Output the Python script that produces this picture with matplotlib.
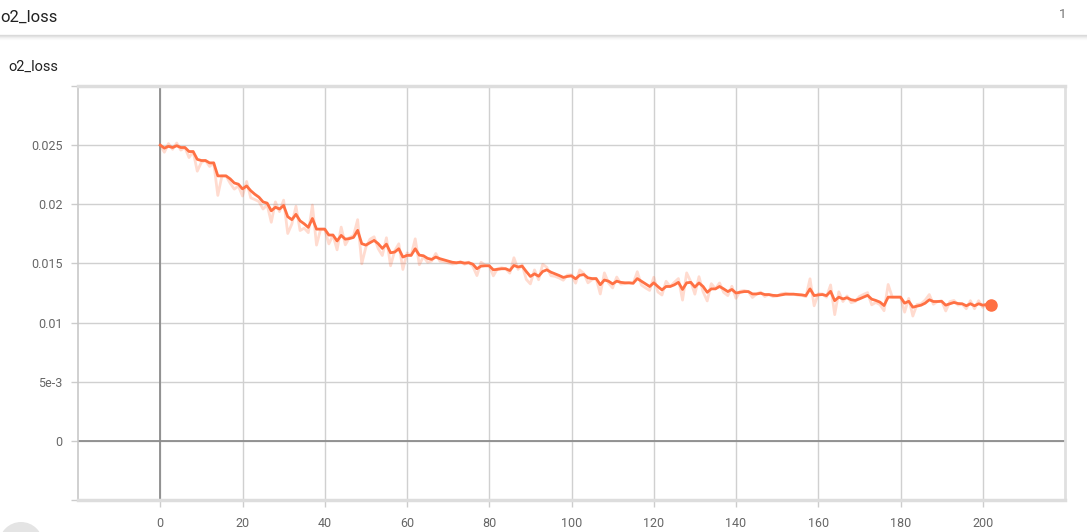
import matplotlib
matplotlib.use("Agg")
import matplotlib.pyplot as plt
from matplotlib.lines import Line2D
from matplotlib.patches import Ellipse

plt.rcParams['font.family'] = ['Roboto', 'DejaVu Sans']

title = "o2_loss"
run_count = "1"

steps = list(range(203))

smoothed = [
    0.02500, 0.02475, 0.02490, 0.02480, 0.02495, 0.02480, 0.02480, 0.02446, 0.02446, 0.02380,
    0.02370, 0.02370, 0.02350, 0.02350, 0.02240, 0.02240, 0.02240, 0.02215, 0.02180, 0.02170,
    0.02130, 0.02155, 0.02115, 0.02085, 0.02060, 0.02020, 0.02010, 0.01945, 0.01975, 0.01960,
    0.01990, 0.01895, 0.01870, 0.01915, 0.01860, 0.01835, 0.01805, 0.01880, 0.01790, 0.01790,
    0.01790, 0.01740, 0.01740, 0.01690, 0.01737, 0.01705, 0.01710, 0.01720, 0.01780, 0.01667,
    0.01655, 0.01675, 0.01695, 0.01667, 0.01627, 0.01663, 0.01590, 0.01596, 0.01624, 0.01554,
    0.01568, 0.01568, 0.01624, 0.01570, 0.01565, 0.01543, 0.01534, 0.01554, 0.01540, 0.01530,
    0.01520, 0.01510, 0.01506, 0.01510, 0.01503, 0.01506, 0.01494, 0.01455, 0.01477, 0.01480,
    0.01480, 0.01446, 0.01450, 0.01455, 0.01455, 0.01440, 0.01483, 0.01470, 0.01477, 0.01432,
    0.01390, 0.01412, 0.01392, 0.01432, 0.01446, 0.01426, 0.01412, 0.01398, 0.01382, 0.01390,
    0.01395, 0.01370, 0.01400, 0.01406, 0.01378, 0.01372, 0.01372, 0.01320, 0.01360, 0.01350,
    0.01327, 0.01350, 0.01340, 0.01336, 0.01336, 0.01333, 0.01372, 0.01350, 0.01327, 0.01305,
    0.01336, 0.01305, 0.01276, 0.01305, 0.01305, 0.01319, 0.01340, 0.01280, 0.01336, 0.01340,
    0.01300, 0.01335, 0.01305, 0.01256, 0.01285, 0.01285, 0.01305, 0.01285, 0.01262, 0.01280,
    0.01250, 0.01256, 0.01262, 0.01262, 0.01242, 0.01242, 0.01248, 0.01237, 0.01237, 0.01230,
    0.01228, 0.01234, 0.01240, 0.01240, 0.01240, 0.01237, 0.01234, 0.01228, 0.01285, 0.01228,
    0.01234, 0.01237, 0.01228, 0.01264, 0.01185, 0.01215, 0.01200, 0.01210, 0.01193, 0.01187,
    0.01200, 0.01215, 0.01230, 0.01198, 0.01187, 0.01173, 0.01144, 0.01215, 0.01215, 0.01215,
    0.01215, 0.01164, 0.01180, 0.01130, 0.01139, 0.01147, 0.01164, 0.01193, 0.01178, 0.01178,
    0.01180, 0.01147, 0.01159, 0.01170, 0.01161, 0.01159, 0.01142, 0.01159, 0.01142, 0.01159,
    0.01147, 0.01153, 0.01150,
]

raw = [
    0.02500, 0.02440, 0.02513, 0.02465, 0.02518, 0.02458, 0.02480, 0.02395, 0.02446, 0.02280,
    0.02355, 0.02370, 0.02320, 0.02350, 0.02075, 0.02240, 0.02240, 0.02178, 0.02128, 0.02155,
    0.02070, 0.02193, 0.02055, 0.02040, 0.02023, 0.01960, 0.01995, 0.01848, 0.02020, 0.01938,
    0.02035, 0.01753, 0.01833, 0.01983, 0.01778, 0.01798, 0.01760, 0.01993, 0.01655, 0.01790,
    0.01790, 0.01665, 0.01740, 0.01615, 0.01807, 0.01657, 0.01718, 0.01735, 0.01870, 0.01497,
    0.01637, 0.01705, 0.01725, 0.01625, 0.01567, 0.01717, 0.01480, 0.01605, 0.01666, 0.01449,
    0.01589, 0.01568, 0.01708, 0.01489, 0.01558, 0.01510, 0.01520, 0.01584, 0.01519, 0.01515,
    0.01505, 0.01495, 0.01500, 0.01516, 0.01493, 0.01511, 0.01476, 0.01397, 0.01510, 0.01485,
    0.01480, 0.01395, 0.01456, 0.01463, 0.01455, 0.01418, 0.01548, 0.01450, 0.01488, 0.01365,
    0.01327, 0.01445, 0.01362, 0.01492, 0.01467, 0.01396, 0.01391, 0.01377, 0.01358, 0.01402,
    0.01403, 0.01333, 0.01445, 0.01415, 0.01336, 0.01363, 0.01372, 0.01242, 0.01420, 0.01335,
    0.01293, 0.01385, 0.01325, 0.01330, 0.01336, 0.01329, 0.01430, 0.01317, 0.01293, 0.01272,
    0.01383, 0.01259, 0.01233, 0.01349, 0.01305, 0.01340, 0.01372, 0.01190, 0.01420, 0.01346,
    0.01240, 0.01388, 0.01260, 0.01183, 0.01329, 0.01285, 0.01335, 0.01255, 0.01228, 0.01307,
    0.01205, 0.01265, 0.01271, 0.01262, 0.01212, 0.01242, 0.01257, 0.01220, 0.01237, 0.01220,
    0.01225, 0.01243, 0.01249, 0.01240, 0.01240, 0.01232, 0.01230, 0.01219, 0.01370, 0.01142,
    0.01243, 0.01242, 0.01215, 0.01318, 0.01067, 0.01260, 0.01178, 0.01225, 0.01168, 0.01178,
    0.01220, 0.01238, 0.01253, 0.01150, 0.01170, 0.01152, 0.01100, 0.01322, 0.01215, 0.01215,
    0.01215, 0.01088, 0.01204, 0.01055, 0.01153, 0.01159, 0.01190, 0.01237, 0.01155, 0.01178,
    0.01183, 0.01098, 0.01177, 0.01187, 0.01148, 0.01156, 0.01117, 0.01185, 0.01117, 0.01185,
    0.01129, 0.01162, 0.01146,
]

x_ticks = [0, 20, 40, 60, 80, 100, 120, 140, 160, 180, 200]
y_ticks = [-0.005, 0.0, 0.005, 0.01, 0.015, 0.02, 0.025, 0.03]
y_tick_labels = ["", "0", "5e-3", "0.01", "0.015", "0.02", "0.025", ""]

W, H = 1087, 532
fig = plt.figure(figsize=(W / 100, H / 100), dpi=100)
fig.patch.set_facecolor("white")

# header
fig.text(0 / W, 1 - 17 / H, title, fontsize=12, color="#212121", ha="left", va="center")
fig.text(1066 / W, 1 - 14 / H, run_count, fontsize=9.5, color="#757575", ha="right", va="center")
for i, a in enumerate([0.35, 0.22, 0.12, 0.06, 0.03]):
    fig.add_artist(Line2D([0, 1], [1 - (35 + i) / H] * 2, color="#9e9e9e", alpha=a, lw=1.0,
                          transform=fig.transFigure))
fig.text(8 / W, 1 - 67 / H, title, fontsize=10.5, color="#212121", ha="left", va="center")

# partial grey circle bottom-left
fig.add_artist(Ellipse((21 / W, 1 - 544 / H), 44 / W, 44 / H, transform=fig.transFigure,
                       facecolor="#e4e4e4", edgecolor="none"))

ax = fig.add_axes([78 / W, 1 - 500 / H, (1065 - 78) / W, (500 - 86) / H])
ax.set_xlim(-20, 220)
ax.set_ylim(-0.005, 0.030)

ax.set_xticks(x_ticks)
ax.set_yticks(y_ticks)
ax.set_yticklabels(y_tick_labels)

ax.grid(True, color="#d0d0d0", lw=1.0)
ax.set_axisbelow(True)
ax.axvline(0, color="#8c8c8c", lw=1.3, zorder=1)
ax.axhline(0, color="#8c8c8c", lw=1.3, zorder=1)

for side in ["top", "bottom"]:
    ax.spines[side].set_color("#dddddd")
    ax.spines[side].set_linewidth(2.5)
ax.spines["left"].set_color("#c8c8c8")
ax.spines["left"].set_linewidth(1.2)
ax.spines["right"].set_color("#e0e0e0")
ax.spines["right"].set_linewidth(2.0)

ax.tick_params(axis="both", colors="#cccccc", labelcolor="#666666", labelsize=9,
               length=5, width=1)
ax.tick_params(axis="x", pad=7)
ax.tick_params(axis="y", pad=6)

ax.plot(steps, raw, color="#ff7043", alpha=0.25, lw=2.0, zorder=3)
ax.plot(steps, smoothed, color="#ff7043", lw=2.0, zorder=4, solid_joinstyle="round")
ax.plot([steps[-1]], [smoothed[-1]], "o", color="#ff7043", ms=8, zorder=5)

fig.savefig("out.png", dpi=100, facecolor="white")
